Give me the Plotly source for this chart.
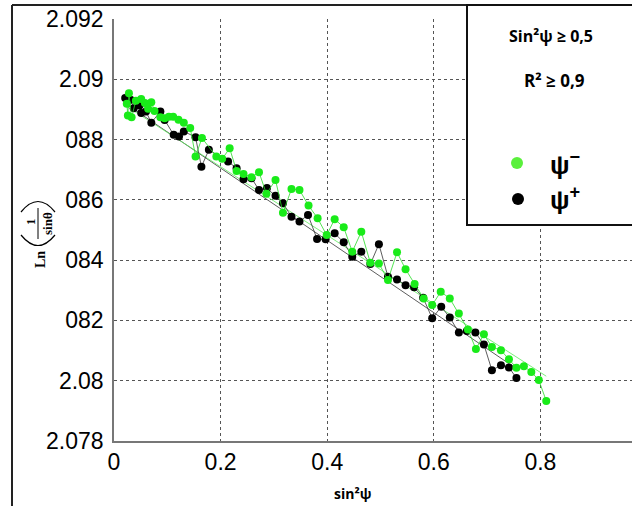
import plotly.graph_objects as go

# ---------------- data ----------------
green_x = [0.024, 0.026, 0.028, 0.033, 0.041, 0.051, 0.058, 0.064, 0.070, 0.076,
           0.087, 0.095, 0.103, 0.111, 0.121, 0.131, 0.143, 0.153, 0.165, 0.192,
           0.203, 0.217, 0.230, 0.243, 0.258, 0.272, 0.286, 0.303, 0.317, 0.333,
           0.348, 0.365, 0.382, 0.399, 0.414, 0.431, 0.447, 0.464, 0.481, 0.497,
           0.514, 0.531, 0.547, 0.564, 0.581, 0.597, 0.613, 0.630, 0.647, 0.664,
           0.679, 0.694, 0.709, 0.726, 0.741, 0.755, 0.769, 0.783, 0.797, 0.811]
green_y = [2.08919, 2.08880, 2.08954, 2.08874, 2.08929, 2.08935, 2.08921, 2.08902, 2.08924, 2.08895,
           2.08874, 2.08871, 2.08876, 2.08876, 2.08866, 2.08856, 2.08838, 2.08744, 2.08805, 2.08744,
           2.08736, 2.08771, 2.08696, 2.08686, 2.08675, 2.08692, 2.08620, 2.08666, 2.08557, 2.08636,
           2.08633, 2.08581, 2.08539, 2.08483, 2.08536, 2.08509, 2.08428, 2.08494, 2.08391, 2.08389,
           2.08334, 2.08426, 2.08370, 2.08321, 2.08273, 2.08251, 2.08295, 2.08273, 2.08223, 2.08170,
           2.08105, 2.08154, 2.08112, 2.08101, 2.08071, 2.08043, 2.08048, 2.08029, 2.08002, 2.07933]

black_x = [0.021, 0.031, 0.037, 0.048, 0.051, 0.060, 0.070, 0.087, 0.095, 0.112,
           0.122, 0.131, 0.153, 0.164, 0.178, 0.214, 0.230, 0.243, 0.258, 0.272,
           0.287, 0.303, 0.317, 0.333, 0.348, 0.364, 0.381, 0.397, 0.414, 0.431,
           0.447, 0.464, 0.481, 0.497, 0.514, 0.531, 0.547, 0.563, 0.580, 0.597,
           0.614, 0.630, 0.647, 0.662, 0.678, 0.694, 0.709, 0.726, 0.741, 0.755]
black_y = [2.08938, 2.08932, 2.08904, 2.08913, 2.08888, 2.08893, 2.08856, 2.08893, 2.08865, 2.08816,
           2.08810, 2.08827, 2.08808, 2.08710, 2.08766, 2.08727, 2.08705, 2.08668, 2.08672, 2.08633,
           2.08639, 2.08614, 2.08589, 2.08544, 2.08528, 2.08550, 2.08470, 2.08469, 2.08489, 2.08459,
           2.08411, 2.08428, 2.08387, 2.08453, 2.08345, 2.08336, 2.08317, 2.08310, 2.08275, 2.08207,
           2.08245, 2.08210, 2.08160, 2.08165, 2.08160, 2.08120, 2.08035, 2.08051, 2.08044, 2.08009]

# linear-fit end points
green_fit_x = [0.024, 0.811]
green_fit_y = [2.0891, 2.08015]
black_fit_x = [0.021, 0.755]
black_fit_y = [2.0892, 2.0804]

x_tickvals = [0, 0.2, 0.4, 0.6, 0.8]
x_ticktext = ["0", "0.2", "0.4", "0.6", "0.8"]
y_tickvals = [2.078, 2.080, 2.082, 2.084, 2.086, 2.088, 2.090, 2.092]
y_ticktext = ["2.078", "2.08", "082", "084", "086", "088", "2.09", "2.092"]

# ---------------- layout geometry ----------------
W, H = 632, 506
ML, MT, MB, MR = 114, 19, 65, 0
PW, PH = W - ML - MR, H - MT - MB


def px_x(p):
    return (p - ML) / PW


def px_y(p):
    return (H - MB - p) / PH


GREEN = "rgb(25,235,25)"
GREEN_LINE = "rgb(40,220,40)"

fig = go.Figure()

# fits
fig.add_trace(go.Scatter(x=black_fit_x, y=black_fit_y, mode="lines",
                         line=dict(color="#333333", width=0.8), hoverinfo="skip"))
fig.add_trace(go.Scatter(x=green_fit_x, y=green_fit_y, mode="lines",
                         line=dict(color="rgb(90,235,90)", width=0.8), hoverinfo="skip"))
# data
fig.add_trace(go.Scatter(x=black_x, y=black_y, mode="lines+markers", name="ψ+",
                         line=dict(color="#333333", width=0.8),
                         marker=dict(color="black", size=8)))
fig.add_trace(go.Scatter(x=green_x, y=green_y, mode="lines+markers", name="ψ−",
                         line=dict(color=GREEN_LINE, width=0.8),
                         marker=dict(color=GREEN, size=8)))

axis_font = dict(family="Liberation Sans, Arial, sans-serif", size=23, color="black")

fig.update_xaxes(range=[0, PW / 533.0], tickvals=x_tickvals, ticktext=x_ticktext,
                 showgrid=True, gridcolor="#555555", griddash="dot", gridwidth=1,
                 zeroline=False, showline=True, linecolor="#777777", linewidth=1.5,
                 ticks="", tickfont=axis_font, ticklabelstandoff=0)
fig.update_yaxes(range=[2.078, 2.092], tickvals=y_tickvals, ticktext=y_ticktext,
                 showgrid=True, gridcolor="#555555", griddash="dot", gridwidth=1,
                 zeroline=False, showline=True, linecolor="#777777", linewidth=1.5,
                 ticks="", tickfont=axis_font, ticklabelstandoff=4)

shapes = []
# outer frame (left and top edges)
shapes.append(dict(type="line", xref="paper", yref="paper", x0=px_x(12), x1=px_x(12),
                   y0=px_y(5), y1=px_y(510), line=dict(color="#222222", width=2), layer="above"))
shapes.append(dict(type="line", xref="paper", yref="paper", x0=px_x(12), x1=px_x(640),
                   y0=px_y(5), y1=px_y(5), line=dict(color="#222222", width=2), layer="above"))
# legend box
shapes.append(dict(type="rect", xref="paper", yref="paper", x0=px_x(467), x1=px_x(640),
                   y0=px_y(5), y1=px_y(225), fillcolor="white",
                   line=dict(color="#111111", width=2), layer="above"))
# legend dots
for cx, cy, col in [(517, 163, "rgb(90,240,60)"), (518, 199, "black")]:
    shapes.append(dict(type="circle", xref="paper", yref="paper",
                       x0=px_x(cx - 6), x1=px_x(cx + 6), y0=px_y(cy + 6), y1=px_y(cy - 6),
                       fillcolor=col, line=dict(color=col, width=0), layer="above"))
# y-title fraction bar and parentheses
shapes.append(dict(type="line", xref="paper", yref="paper", x0=px_x(38), x1=px_x(38),
                   y0=px_y(208), y1=px_y(239), line=dict(color="black", width=1)))
shapes.append(dict(type="path", xref="paper", yref="paper",
                   path="M {},{} Q {},{} {},{}".format(px_x(21), px_y(212), px_x(38), px_y(191),
                                                       px_x(55), px_y(212)),
                   line=dict(color="black", width=1.2)))
shapes.append(dict(type="path", xref="paper", yref="paper",
                   path="M {},{} Q {},{} {},{}".format(px_x(21), px_y(235), px_x(38), px_y(256),
                                                       px_x(55), px_y(235)),
                   line=dict(color="black", width=1.2)))

cal = "Lato, Open Sans, sans-serif"
serif = "Liberation Serif, DejaVu Serif, serif"
ann = []


def add_text(text, x, y, size, family, angle=0, bold=False):
    t = "<b>" + text + "</b>" if bold else text
    ann.append(dict(text=t, xref="paper", yref="paper", x=px_x(x), y=px_y(y),
                    xanchor="center", yanchor="middle", showarrow=False, textangle=angle,
                    font=dict(family=family, size=size, color="black")))


add_text("Sin²ψ ≥ 0,5", 551, 36, 16, "Open Sans, sans-serif", bold=True)
add_text("R² ≥ 0,9", 554, 81, 17, "Open Sans, sans-serif", bold=True)
add_text("ψ<sup>−</sup>", 565, 163, 26, "Liberation Sans, Arial, sans-serif", bold=True)
add_text("ψ<sup>+</sup>", 565, 198, 26, "Liberation Sans, Arial, sans-serif", bold=True)
add_text("sin²ψ", 352, 493, 14, "Open Sans, sans-serif", bold=True)
add_text("Ln", 40, 260, 14, serif, angle=-90, bold=True)
add_text("1", 30, 222, 13, serif, angle=-90, bold=True)
add_text("sinθ", 48, 224, 13, serif, angle=-90, bold=True)

fig.update_layout(width=W, height=H, autosize=False,
                  margin=dict(l=ML, r=MR, t=MT, b=MB, pad=0),
                  plot_bgcolor="white", paper_bgcolor="white",
                  showlegend=False, shapes=shapes, annotations=ann)

fig.write_html("out.html", include_plotlyjs=True,
               config={"displayModeBar": False},
               post_script="document.body.style.margin='0';")
